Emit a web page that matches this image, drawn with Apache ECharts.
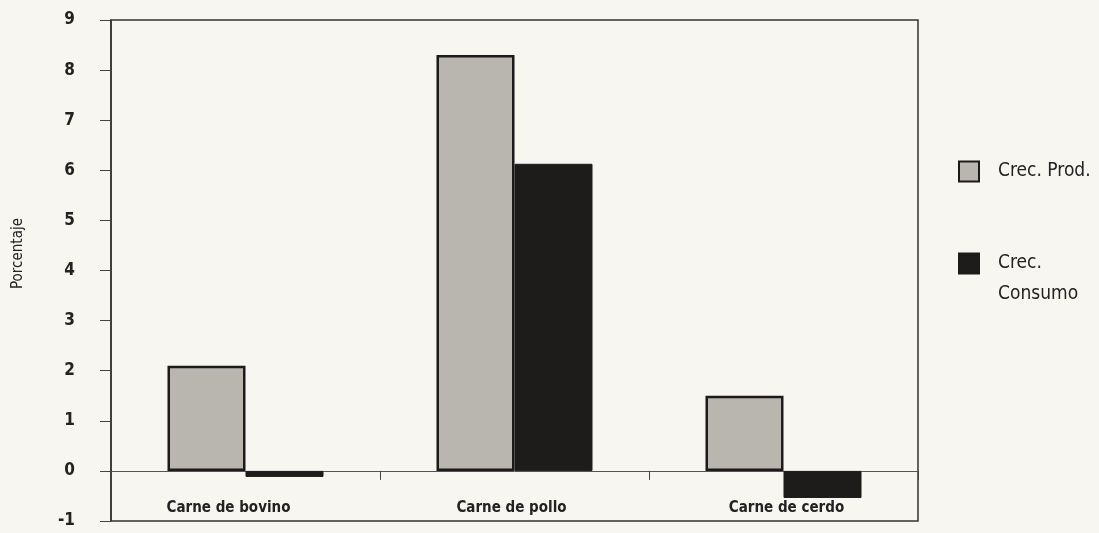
<!DOCTYPE html>
<html>
<head>
<meta charset="utf-8">
<script src="https://cdn.jsdelivr.net/npm/echarts@6/dist/echarts.min.js"></script>
<style>
html,body{margin:0;padding:0;background:#f8f6f1;}
#c{width:1099px;height:533px;}
</style>
</head>
<body>
<div id="c"></div>
<script>
const categories = ["Carne de bovino", "Carne de pollo", "Carne de cerdo"];
const crecProd = [2.1, 8.3, 1.5];
const crecConsumo = [-0.12, 6.13, -0.54];
const seriesNames = ["Crec. Prod.", "Crec. Consumo"];
const yTicks = { min: -1, max: 9, interval: 1 };

const FONT = "'DejaVu Sans Condensed', 'Liberation Sans Narrow', 'Liberation Sans', sans-serif";
const catLabelStyle = { fontSize: 15, fontWeight: 'bold', color: '#222', fontFamily: FONT };
const chart = echarts.init(document.getElementById('c'));
chart.setOption({
  backgroundColor: '#f8f6f1',
  animation: false,
  textStyle: { fontFamily: FONT, color: '#222' },
  grid: {
    left: 111, right: 181, top: 20, bottom: 12,
    outerBoundsMode: 'none',
    containLabel: false,
    show: true, borderColor: '#333', borderWidth: 1.5, backgroundColor: 'transparent'
  },
  legend: {
    orient: 'vertical',
    left: 958, top: 156,
    padding: 0,
    itemWidth: 20, itemHeight: 20, itemGap: 30,
    icon: 'rect',
    data: seriesNames,
    formatter: n => n === 'Crec. Consumo' ? ' \nCrec.\nConsumo' : n,
    textStyle: { fontFamily: FONT, fontSize: 19, color: '#222', lineHeight: 31, padding: [0, 0, 0, 14] }
  },
  xAxis: [
    {
      type: 'category',
      data: categories,
      axisLine: { onZero: true, lineStyle: { color: '#555', width: 1 } },
      axisTick: { show: true, length: 9, lineStyle: { color: '#444' } },
      axisLabel: { show: false },
      splitLine: { show: false }
    },
    {
      type: 'category',
      data: categories,
      position: 'bottom',
      axisLine: { show: false, onZero: false },
      axisTick: { show: false },
      axisLabel: {
        inside: true, margin: 5,
        formatter: (v, i) => i === 0 ? '{l|' + v + '}' : (i === 2 ? '{r|' + v + '}' : '{c|' + v + '}'),
        rich: {
          l: Object.assign({ padding: [0, 34, 0, 0] }, catLabelStyle),
          c: Object.assign({ padding: [0, 6, 0, 0] }, catLabelStyle),
          r: Object.assign({ padding: [0, 0, 0, 6] }, catLabelStyle)
        }
      },
      splitLine: { show: false }
    }
  ],
  yAxis: {
    type: 'value',
    min: yTicks.min, max: yTicks.max, interval: yTicks.interval,
    name: 'Porcentaje',
    nameLocation: 'middle',
    nameGap: 85,
    nameRotate: 90,
    nameTextStyle: { fontSize: 15, color: '#222', fontFamily: FONT, padding: [0, 0, 0, 34] },
    axisLine: { show: true, lineStyle: { color: '#333', width: 1.5 } },
    axisTick: { show: true, length: 11, lineStyle: { color: '#444' } },
    axisLabel: { margin: 36, fontSize: 17, fontWeight: 'bold', color: '#222', fontFamily: FONT },
    splitLine: { show: false }
  },
  series: [
    {
      name: seriesNames[0], type: 'bar', data: crecProd, xAxisIndex: 0,
      barWidth: '29%', barGap: '0%',
      itemStyle: { color: '#b9b6af', borderColor: '#1c1a1a', borderWidth: 2.5 }
    },
    {
      name: seriesNames[1], type: 'bar', data: crecConsumo, xAxisIndex: 0,
      barWidth: '29%', barGap: '0%',
      itemStyle: { color: '#1e1b1b', borderColor: '#1c1a1a', borderWidth: 1 }
    }
  ]
});
</script>
</body>
</html>
